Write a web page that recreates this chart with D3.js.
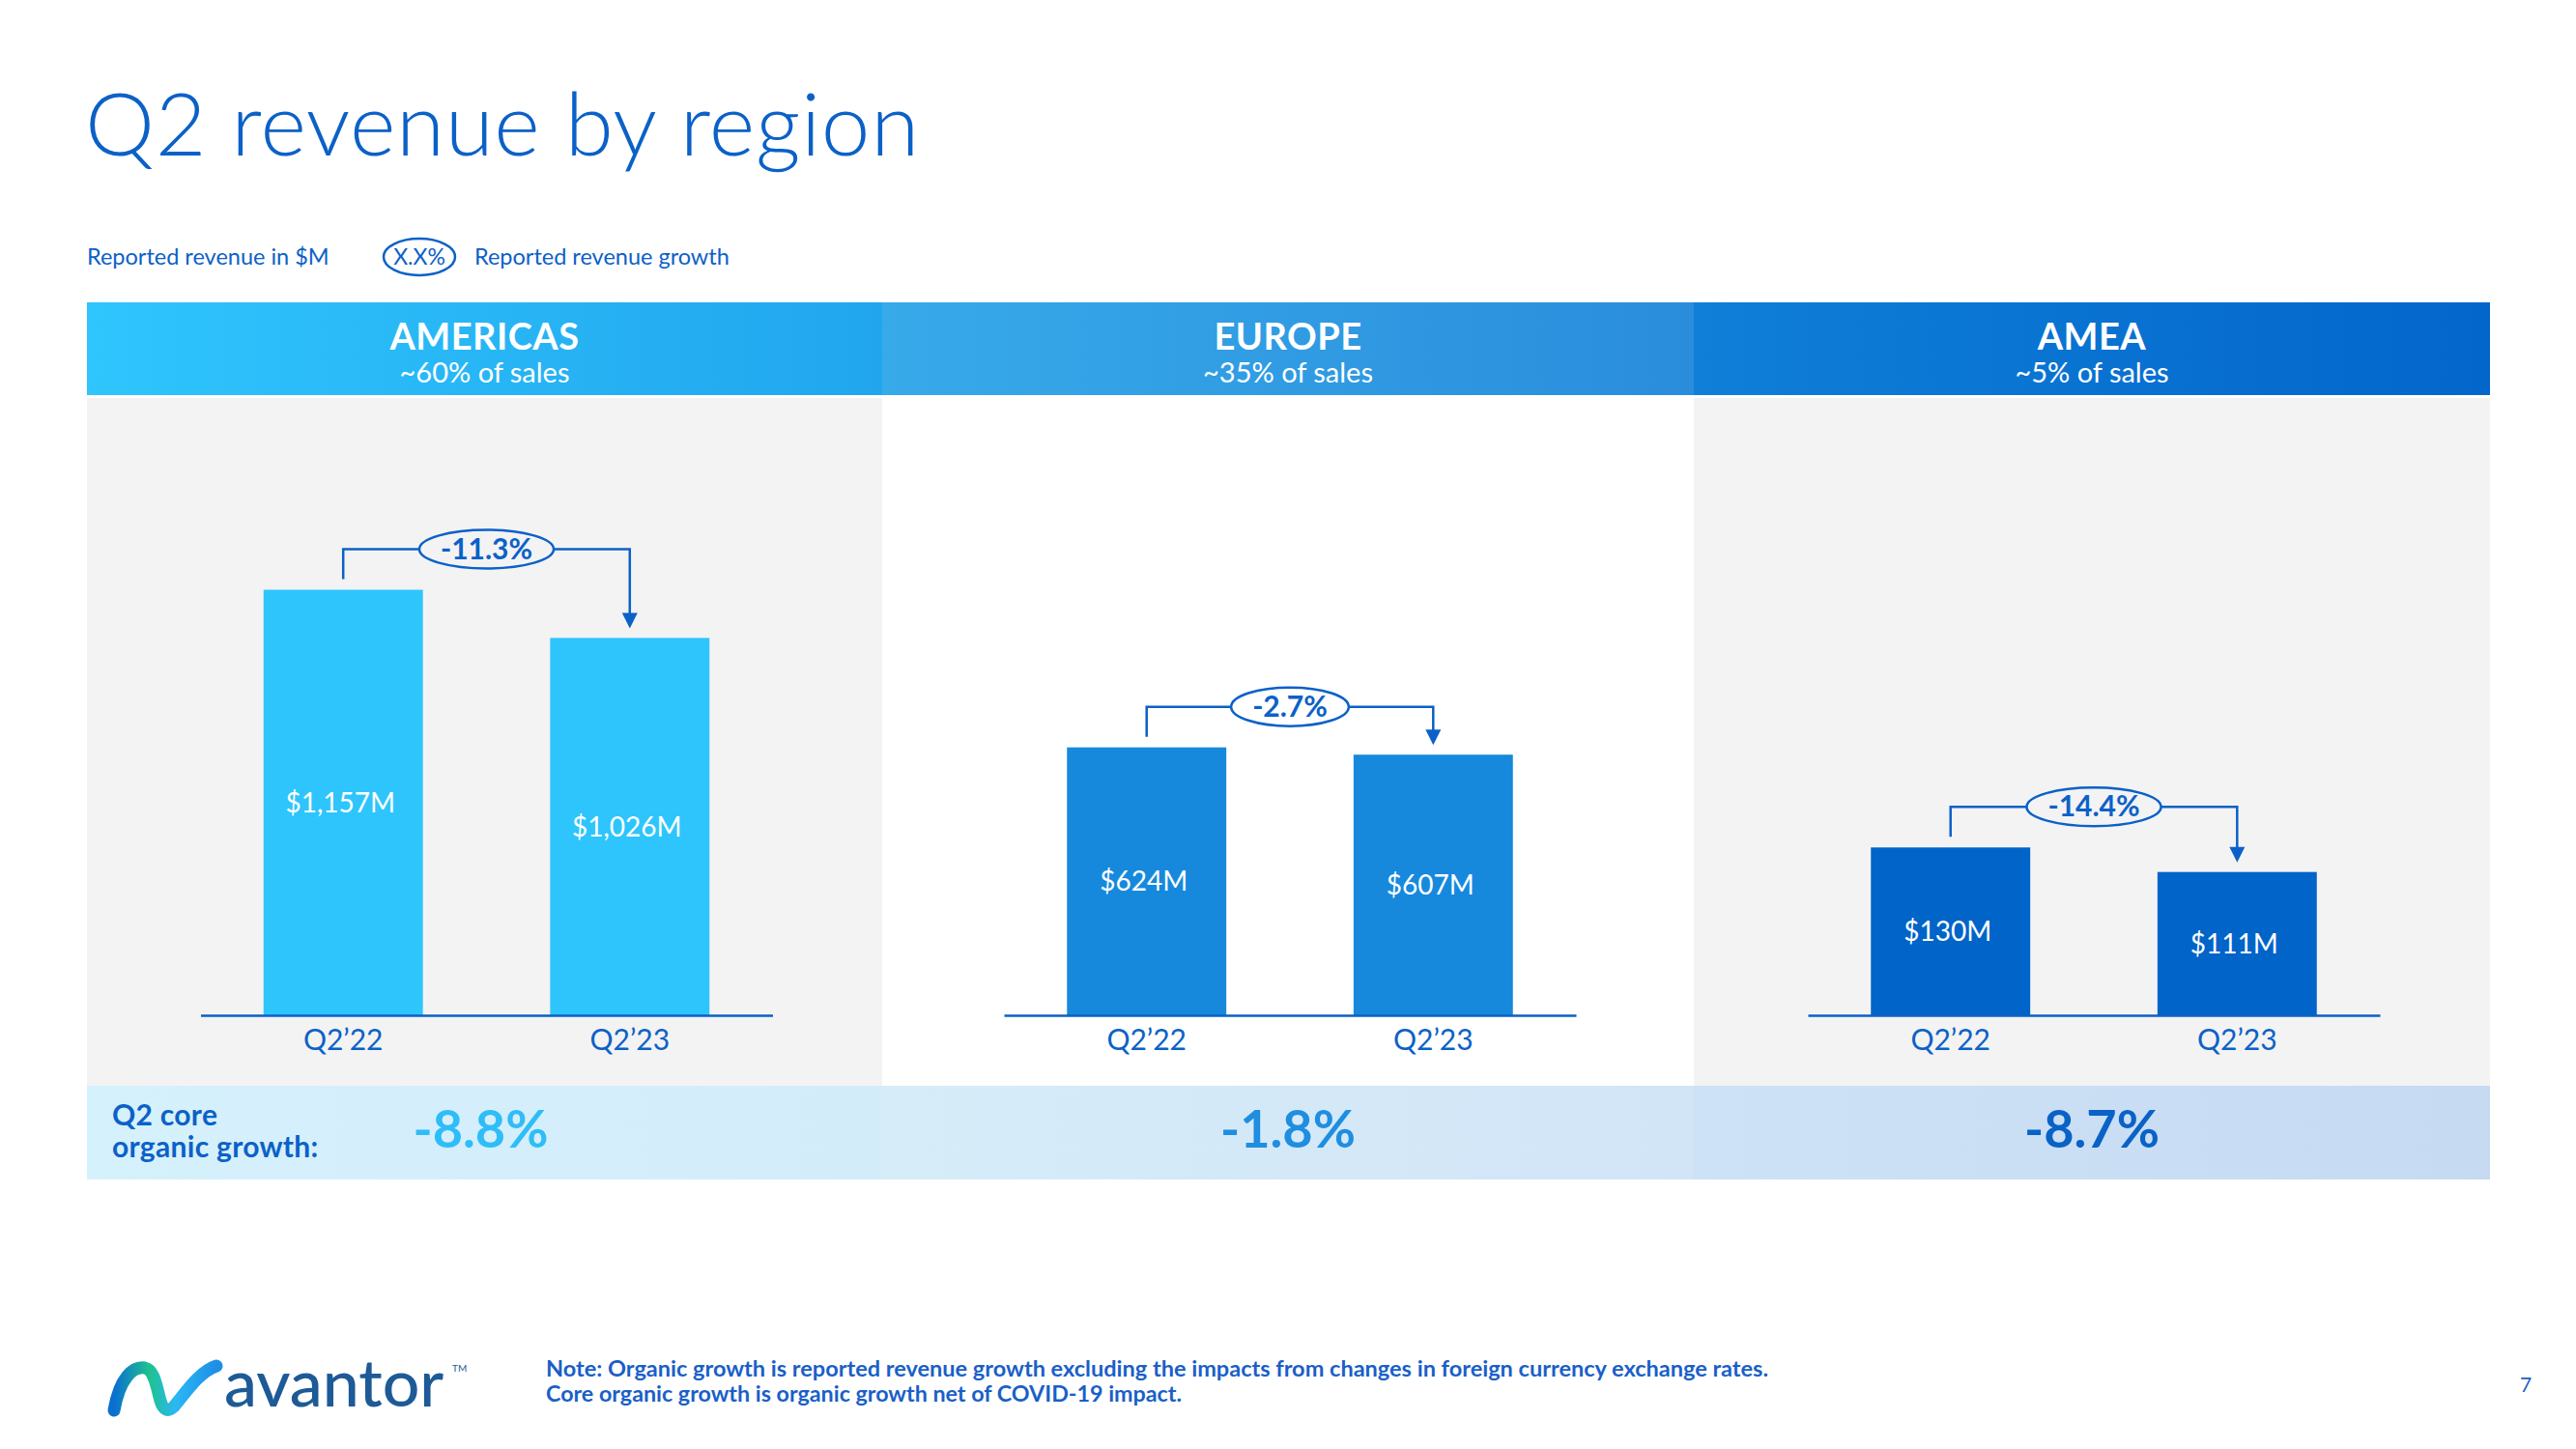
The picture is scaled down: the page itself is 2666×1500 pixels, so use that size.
<!DOCTYPE html>
<html>
<head>
<meta charset="utf-8">
<script src="https://cdn.jsdelivr.net/npm/d3@7"></script>
<style>
  html, body { margin: 0; padding: 0; background: #ffffff; }
  svg { display: block; font-family: "Lato", "Open Sans", sans-serif; }
</style>
</head>
<body>
<svg id="chart" width="2666" height="1500"></svg>
<script>
// ---------- DATA ----------
const regions = ["AMERICAS", "EUROPE", "AMEA"];
const shareLabels = ["~60% of sales", "~35% of sales", "~5% of sales"];
const periods = ["Q2\u201922", "Q2\u201923"];
const revenueQ222 = [1157, 624, 130];
const revenueQ223 = [1026, 607, 111];
const reportedGrowth = ["-11.3%", "-2.7%", "-14.4%"];
const coreOrganicGrowth = ["-8.8%", "-1.8%", "-8.7%"];
const axisMax = [1576, 1350, 449];   // per-panel value-axis maximum

// ---------- STYLE ----------
const DARK = "#0b61c7";
const barColors = ["#2ec5fd", "#1689dd", "#0064c8"];
const headerGrad = [["#2fc5fd", "#21a6ee"], ["#37aaea", "#2a8ddc"], ["#0f7fd8", "#0366cb"]];
const bandGrad = [["#d5f1fc", "#d3ecfa"], ["#d6ecf9", "#d2e5f7"], ["#cde2f6", "#c6daf2"]];
const growthColors = ["#2fbdf8", "#1f8ee0", "#0a62c6"];
const panelFill = ["#f3f3f4", "#ffffff", "#f3f3f4"];

const svg = d3.select("#chart");
const defs = svg.append("defs");

const edges = [90, 913, 1753, 2577];
const headerTop = 313, headerBot = 409, panelBot = 1124, bandBot = 1221;
const baseY = 1051, plotTop = 451;

// Title
svg.append("text").attr("x", 88).attr("y", 161)
  .attr("font-size", 91).attr("font-weight", 300).attr("fill", DARK)
  .attr("letter-spacing", 0.6)
  .text("Q2 revenue by region");

// Legend
svg.append("text").attr("x", 90).attr("y", 274).attr("font-size", 23.5).attr("fill", DARK)
  .text("Reported revenue in $M");
svg.append("ellipse").attr("cx", 434).attr("cy", 266).attr("rx", 37).attr("ry", 19)
  .attr("fill", "#fff").attr("stroke", DARK).attr("stroke-width", 2.5);
svg.append("text").attr("x", 434).attr("y", 274).attr("text-anchor", "middle")
  .attr("font-size", 23).attr("fill", DARK).text("X.X%");
svg.append("text").attr("x", 491).attr("y", 274).attr("font-size", 23.5).attr("fill", DARK)
  .text("Reported revenue growth");

regions.forEach((reg, i) => {
  const x0 = edges[i], x1 = edges[i + 1], cx = (x0 + x1) / 2;

  // gradients
  const hg = defs.append("linearGradient").attr("id", "hg" + i);
  hg.append("stop").attr("offset", "0%").attr("stop-color", headerGrad[i][0]);
  hg.append("stop").attr("offset", "100%").attr("stop-color", headerGrad[i][1]);
  const bg = defs.append("linearGradient").attr("id", "bg" + i);
  bg.append("stop").attr("offset", "0%").attr("stop-color", bandGrad[i][0]);
  bg.append("stop").attr("offset", "100%").attr("stop-color", bandGrad[i][1]);

  // header
  svg.append("rect").attr("x", x0).attr("y", headerTop).attr("width", x1 - x0)
    .attr("height", headerBot - headerTop).attr("fill", `url(#hg${i})`);
  svg.append("text").attr("x", cx).attr("y", 362).attr("text-anchor", "middle")
    .attr("font-size", 38).attr("font-weight", 700).attr("fill", "#fff")
    .attr("letter-spacing", 0.5).text(reg);
  svg.append("text").attr("x", cx).attr("y", 396).attr("text-anchor", "middle")
    .attr("font-size", 29).attr("fill", "#fff").text(shareLabels[i]);

  // panel
  svg.append("rect").attr("x", x0).attr("y", headerBot + 3).attr("width", x1 - x0)
    .attr("height", panelBot - headerBot - 3).attr("fill", panelFill[i]);

  // bottom band
  svg.append("rect").attr("x", x0).attr("y", panelBot).attr("width", x1 - x0)
    .attr("height", bandBot - panelBot).attr("fill", `url(#bg${i})`);
  svg.append("text").attr("x", i === 0 ? cx - 4 : cx).attr("y", 1188).attr("text-anchor", "middle")
    .attr("font-size", 54).attr("font-weight", 700).attr("fill", growthColors[i])
    .text(coreOrganicGrowth[i]);

  // scales
  const ax = cx + 2;
  const x = d3.scaleBand().domain(periods).range([ax - 296, ax + 296])
    .paddingInner(0.444).paddingOuter(0.22);
  const y = d3.scaleLinear().domain([0, axisMax[i]]).range([baseY, plotTop]);
  const vals = [revenueQ222[i], revenueQ223[i]];
  const data = periods.map((p, k) => ({ p, v: vals[k] }));

  const g = svg.append("g");
  g.selectAll("rect.bar").data(data).join("rect").attr("class", "bar")
    .attr("x", d => x(d.p)).attr("width", x.bandwidth())
    .attr("y", d => y(d.v)).attr("height", d => baseY - y(d.v))
    .attr("fill", barColors[i]);

  g.selectAll("text.val").data(data).join("text").attr("class", "val")
    .attr("x", d => x(d.p) + x.bandwidth() / 2 - 3)
    .attr("y", d => (y(d.v) + baseY) / 2 + 10)
    .attr("text-anchor", "middle").attr("font-size", 28).attr("fill", "#fff")
    .text(d => "$" + d3.format(",")(d.v) + "M");

  // axis
  const axis = d3.axisBottom(x).tickSize(0).tickPadding(15);
  const ag = svg.append("g").attr("transform", `translate(0,${baseY})`).call(axis);
  ag.select(".domain").attr("stroke", DARK).attr("stroke-width", 2.5);
  ag.selectAll("text").attr("font-size", 30).attr("fill", DARK)
    .attr("font-family", "Lato, 'Open Sans', sans-serif");

  // growth annotation
  const c1 = x(periods[0]) + x.bandwidth() / 2, c2 = x(periods[1]) + x.bandwidth() / 2;
  const top1 = y(vals[0]), top2 = y(vals[1]);
  const by = Math.min(top1, top2) - 42;
  const tipY = top2 - 10, ah = 16, aw = 8;
  const ann = svg.append("g");
  ann.append("path")
    .attr("d", `M${c1},${top1 - 11} V${by} H${c2} V${tipY - ah + 2}`)
    .attr("fill", "none").attr("stroke", DARK).attr("stroke-width", 2.5);
  ann.append("path")
    .attr("d", `M${c2 - aw},${tipY - ah} L${c2 + aw},${tipY - ah} L${c2},${tipY} Z`)
    .attr("fill", DARK);
  const mid = (c1 + c2) / 2;
  const el = ann.append("ellipse").attr("cx", mid).attr("cy", by).attr("ry", 20)
    .attr("fill", panelFill[i]).attr("stroke", DARK).attr("stroke-width", 2.5);
  const t = ann.append("text").attr("x", mid).attr("y", by + 10).attr("text-anchor", "middle")
    .attr("font-size", 30).attr("font-weight", 700).attr("fill", DARK).text(reportedGrowth[i]);
  const tw = t.node().getComputedTextLength();
  el.attr("rx", tw / 2 + 22);
});

// Bottom band label
svg.append("text").attr("x", 116).attr("y", 1165).attr("font-size", 30).attr("font-weight", 700)
  .attr("fill", DARK).attr("letter-spacing", 0.3).text("Q2 core");
svg.append("text").attr("x", 116).attr("y", 1198).attr("font-size", 30).attr("font-weight", 700)
  .attr("fill", DARK).attr("letter-spacing", 0.3).text("organic growth:");

// Footer note
svg.append("text").attr("x", 565).attr("y", 1425).attr("font-size", 22.5).attr("font-weight", 700)
  .attr("fill", "#1a5fc8").attr("textLength", 1265).attr("lengthAdjust", "spacingAndGlyphs")
  .text("Note: Organic growth is reported revenue growth excluding the impacts from changes in foreign currency exchange rates.");
svg.append("text").attr("x", 565).attr("y", 1451).attr("font-size", 22.5).attr("font-weight", 700)
  .attr("fill", "#1a5fc8").attr("textLength", 658).attr("lengthAdjust", "spacingAndGlyphs")
  .text("Core organic growth is organic growth net of COVID-19 impact.");
svg.append("text").attr("x", 2608).attr("y", 1441).attr("font-size", 21).attr("fill", "#1a5fc8").text("7");

// Logo
const lg = defs.append("linearGradient").attr("id", "logoG").attr("x1", "0%").attr("x2", "100%");
lg.append("stop").attr("offset", "0%").attr("stop-color", "#0a6fd0");
lg.append("stop").attr("offset", "35%").attr("stop-color", "#1fc28f");
lg.append("stop").attr("offset", "60%").attr("stop-color", "#2bb8f4");
lg.append("stop").attr("offset", "100%").attr("stop-color", "#1e8fe6");
const logo = svg.append("g").attr("transform", "translate(114,1410)");
logo.append("path")
  .attr("d", "M4,50 C10,16 24,4 36,6 C46,8 48,26 52,40 C55,50 60,52 66,46 C78,32 92,10 110,4")
  .attr("fill", "none").attr("stroke", "url(#logoG)").attr("stroke-width", 13).attr("stroke-linecap", "round");
svg.append("text").attr("x", 232).attr("y", 1456).attr("font-size", 68).attr("font-weight", 500)
  .attr("fill", "#1d5a96").text("avantor");
svg.append("text").attr("x", 468).attr("y", 1420).attr("font-size", 10).attr("fill", "#1d5a96").text("TM");
</script>
</body>
</html>
